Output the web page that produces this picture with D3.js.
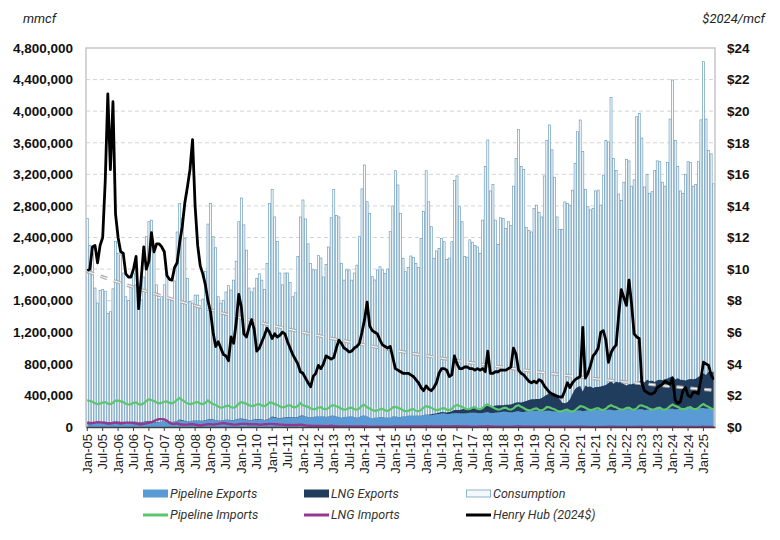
<!DOCTYPE html>
<html>
<head>
<meta charset="utf-8">
<script src="https://cdn.jsdelivr.net/npm/d3@7"></script>
<style>
  body { margin: 0; background: #fff; }
  svg { font-family: Roboto, "Liberation Sans", Arial, sans-serif; }
</style>
</head>
<body>
<svg id="chart" width="780" height="540"></svg>
<script>
// monthly series Jan-05 .. May-25, volumes in thousand mmcf
const consumption = [
  2640, 2300, 2200, 1760, 1570, 1730, 1740, 1720, 1440, 1460, 1750, 2350,
  2200, 2180, 1950, 1650, 1600, 1780, 1950, 1800, 1600, 1610, 1900, 2410,
  2600, 2620, 2200, 1800, 1620, 1650, 1800, 1950, 1640, 1600, 1850, 2470,
  2830, 2640, 2390, 1880, 1590, 1570, 1670, 1670, 1500, 1620, 1970, 2570,
  2830, 2410, 2270, 1650, 1570, 1600, 1710, 1790, 1735, 1860, 2100, 2600,
  2900, 2560, 2240, 1760, 1710, 1760, 1880, 1940, 1860, 1740, 2070, 2830,
  3010, 2660, 2350, 1950, 1800, 1950, 1950, 1830, 1650, 1700, 2160, 2660,
  2875, 2635, 2320, 2070, 1990, 1990, 2170, 2140, 1900, 2060, 2280, 2650,
  3010, 2680, 2660, 2070, 1860, 1990, 1990, 1860, 1950, 2050, 2410, 3016,
  3318, 2853, 2706, 1904, 1862, 1988, 2030, 1990, 1946, 2000, 2474, 2800,
  3246, 3065, 2706, 2137, 1967, 2020, 2166, 2150, 2070, 2020, 2390, 2728,
  3246, 2853, 2537, 2137, 2230, 2260, 2390, 2347, 2120, 2140, 2347, 3122,
  3180, 2790, 2600, 2160, 2150, 2370, 2340, 2300, 2280, 2200, 2620, 3300,
  3635, 2990, 3070, 2620, 2310, 2650, 2640, 2514, 2600, 2550, 3050, 3400,
  3770, 3300, 3260, 2530, 2490, 2470, 2770, 2810, 2720, 2660, 3180, 3630,
  3825, 3510, 3163, 2660, 2500, 2500, 2850, 2830, 2810, 3000, 3340, 3740,
  3888, 3490, 3010, 2790, 2750, 2770, 2990, 3000, 2810, 3190, 3630, 3610,
  4175, 3400, 3250, 2950, 2870, 3100, 3390, 3370, 3050, 3130, 3930, 3973,
  3660, 3040, 3200, 2960, 2980, 3250, 3370, 3360, 3100, 3050, 3350, 3900,
  4395, 3630, 3300, 2990, 2960, 3200, 3360, 3350, 3050, 3070, 3360, 3890,
  4627, 3900, 3500, 3460, 3080
];

const pipelineExports = [
  65, 60, 55, 50, 50, 55, 60, 60, 55, 55, 60, 65,
  65, 60, 55, 50, 50, 55, 60, 60, 55, 55, 60, 70,
  70, 65, 60, 55, 60, 65, 70, 70, 65, 60, 65, 75,
  85, 80, 75, 70, 70, 75, 80, 80, 75, 75, 80, 90,
  95, 90, 85, 80, 80, 85, 90, 90, 85, 85, 90, 100,
  100, 95, 90, 85, 85, 90, 95, 95, 90, 85, 90, 105,
  125, 115, 110, 105, 110, 115, 120, 120, 115, 115, 120, 135,
  140, 130, 125, 120, 125, 130, 135, 135, 130, 125, 130, 140,
  140, 130, 125, 120, 125, 130, 135, 135, 125, 120, 125, 140,
  145, 130, 120, 110, 115, 120, 125, 125, 120, 115, 120, 135,
  130, 125, 125, 130, 135, 140, 145, 145, 140, 140, 145, 150,
  155, 150, 150, 155, 160, 165, 170, 170, 165, 165, 170, 175,
  175, 170, 170, 172, 175, 180, 182, 182, 178, 175, 178, 185,
  188, 178, 178, 182, 185, 190, 192, 192, 188, 185, 188, 195,
  198, 190, 190, 195, 198, 202, 205, 205, 200, 198, 200, 205,
  205, 198, 195, 192, 192, 198, 205, 205, 200, 200, 202, 208,
  210, 200, 205, 208, 212, 215, 218, 218, 214, 212, 212, 218,
  218, 208, 212, 215, 218, 222, 225, 225, 222, 220, 220, 225,
  225, 215, 218, 222, 226, 230, 233, 233, 228, 225, 225, 230,
  232, 222, 226, 230, 234, 238, 242, 242, 236, 232, 232, 238,
  240, 230, 234, 238, 242
];

const lngExports = [
  5, 5, 6, 5, 5, 5, 5, 5, 5, 5, 5, 6,
  5, 5, 5, 5, 5, 5, 5, 5, 5, 5, 5, 5,
  5, 4, 4, 4, 4, 4, 4, 4, 4, 4, 4, 4,
  10, 8, 5, 3, 3, 3, 3, 3, 3, 3, 4, 6,
  6, 5, 4, 3, 3, 3, 3, 3, 4, 5, 5, 6,
  8, 7, 6, 5, 5, 5, 5, 5, 5, 5, 5, 6,
  8, 7, 6, 6, 6, 6, 6, 6, 6, 6, 6, 7,
  5, 4, 3, 2, 2, 2, 2, 2, 2, 2, 2, 2,
  2, 2, 2, 1, 1, 1, 1, 1, 1, 1, 1, 2,
  2, 2, 1, 1, 1, 1, 1, 1, 1, 1, 1, 2,
  2, 2, 2, 2, 2, 2, 2, 2, 2, 2, 2, 3,
  2, 5, 10, 12, 15, 15, 20, 18, 20, 25, 30, 40,
  40, 45, 55, 60, 55, 55, 60, 55, 55, 60, 65, 75,
  80, 80, 85, 90, 90, 85, 85, 90, 95, 100, 110, 115,
  115, 120, 130, 135, 145, 150, 145, 150, 155, 170, 190, 205,
  220, 235, 235, 210, 160, 110, 95, 110, 150, 220, 280, 300,
  310, 250, 320, 300, 300, 280, 290, 290, 300, 310, 320, 340,
  360, 340, 360, 350, 355, 320, 300, 315, 320, 330, 340, 350,
  370, 350, 380, 360, 360, 340, 360, 365, 365, 380, 390, 400,
  410, 380, 390, 370, 360, 350, 360, 365, 370, 380, 400, 420,
  440, 430, 470, 450, 460
];

const pipelineImports = [
  340, 330, 320, 300, 290, 295, 310, 315, 295, 290, 305, 335,
  335, 325, 315, 295, 285, 290, 305, 310, 290, 285, 300, 330,
  350, 340, 330, 310, 300, 305, 320, 325, 305, 300, 315, 345,
  365, 340, 320, 300, 290, 295, 310, 315, 295, 290, 305, 335,
  310, 290, 280, 260, 245, 250, 265, 270, 250, 245, 260, 295,
  315, 305, 295, 275, 265, 270, 285, 290, 270, 265, 280, 310,
  305, 290, 280, 260, 250, 255, 270, 275, 255, 250, 265, 300,
  275, 265, 255, 235, 225, 230, 245, 250, 230, 225, 240, 270,
  275, 262, 250, 230, 220, 225, 240, 245, 225, 220, 235, 270,
  280, 250, 235, 215, 205, 210, 225, 230, 210, 205, 220, 250,
  255, 245, 230, 210, 200, 205, 220, 225, 205, 200, 215, 245,
  265, 255, 245, 225, 215, 220, 235, 240, 220, 215, 230, 265,
  280, 265, 255, 235, 225, 230, 245, 250, 230, 225, 240, 275,
  285, 265, 250, 230, 220, 225, 240, 245, 225, 220, 235, 265,
  275, 255, 240, 220, 210, 215, 230, 235, 215, 210, 225, 255,
  250, 235, 225, 205, 195, 200, 215, 220, 200, 195, 210, 240,
  265, 260, 245, 225, 215, 220, 235, 240, 220, 215, 230, 260,
  275, 260, 250, 230, 220, 225, 240, 245, 225, 220, 235, 270,
  275, 260, 250, 230, 220, 225, 240, 245, 225, 220, 235, 265,
  285, 265, 255, 235, 225, 230, 245, 250, 230, 225, 240, 270,
  290, 270, 255, 235, 225
];

const lngImports = [
  55, 45, 50, 55, 60, 58, 55, 50, 45, 45, 50, 55,
  50, 45, 50, 55, 55, 55, 50, 45, 35, 35, 40, 45,
  55, 60, 75, 90, 100, 100, 95, 80, 55, 40, 40, 45,
  35, 30, 30, 30, 35, 35, 30, 25, 20, 25, 30, 35,
  35, 30, 35, 40, 45, 50, 45, 40, 35, 30, 30, 35,
  40, 40, 40, 35, 35, 35, 35, 30, 30, 35, 35, 40,
  40, 35, 35, 30, 30, 25, 25, 25, 25, 25, 25, 30,
  25, 20, 15, 15, 12, 12, 12, 12, 12, 10, 12, 15,
  12, 10, 8, 8, 7, 7, 6, 6, 6, 6, 6, 8,
  8, 6, 5, 4, 4, 4, 4, 4, 4, 4, 5, 6,
  8, 8, 8, 7, 7, 6, 6, 6, 6, 7, 7, 8,
  9, 8, 7, 7, 6, 6, 6, 6, 6, 7, 7, 9,
  9, 8, 7, 6, 6, 5, 5, 5, 5, 6, 6, 8,
  10, 8, 6, 5, 5, 5, 4, 4, 4, 5, 5, 7,
  8, 6, 5, 4, 3, 3, 3, 3, 3, 3, 4, 5,
  5, 4, 3, 3, 3, 3, 3, 3, 3, 3, 3, 4,
  5, 4, 3, 2, 2, 2, 2, 2, 2, 2, 2, 3,
  4, 3, 2, 2, 1, 1, 1, 1, 1, 1, 2, 3,
  3, 2, 2, 1, 1, 1, 1, 1, 1, 1, 1, 2,
  3, 2, 1, 1, 1, 1, 1, 1, 1, 1, 1, 2,
  3, 2, 1, 1, 1
];

// Henry Hub, $2024 per mcf
const henryHub = [
  9.9, 10.0, 11.4, 11.5, 10.4, 11.5, 12.0, 15.6, 21.1, 16.3, 20.6, 13.5,
  12.0, 11.1, 11.0, 9.7, 9.5, 9.5, 10.0, 10.8, 7.5, 9.4, 11.4, 10.0,
  10.5, 12.3, 11.1, 11.6, 11.6, 11.4, 11.1, 9.6, 9.35, 9.3, 10.1, 10.4,
  11.7, 12.7, 14.2, 15.2, 16.3, 18.2, 14.0, 11.5, 10.2, 9.7, 9.0, 8.0,
  7.3, 6.0, 5.1, 5.4, 5.0, 4.6, 4.5, 4.2, 5.7, 5.3, 6.6, 8.4,
  7.6, 5.9, 5.7, 6.3, 6.8, 6.2, 4.8, 5.0, 5.4, 5.8, 6.25, 6.0,
  5.6, 5.9, 5.7, 5.8, 6.0, 5.9, 5.4, 5.0, 4.6, 4.3, 4.0, 3.5,
  3.4, 3.1, 2.8, 2.55, 3.2, 3.4, 3.9, 3.7, 4.0, 4.5, 4.4, 4.3,
  4.4, 5.0, 5.5, 5.3, 5.0, 4.9, 4.75, 4.8, 5.0, 5.1, 5.3, 6.0,
  6.8, 7.9, 6.4, 6.1, 6.0, 5.9, 5.5, 5.2, 5.1, 5.0, 5.1, 4.4,
  3.7, 3.6, 3.5, 3.4, 3.4, 3.4, 3.3, 3.2, 3.0, 2.8, 2.5, 2.3,
  2.6, 2.4, 2.3, 2.5, 2.8, 3.4, 3.7, 3.7, 3.6, 3.2, 3.3, 4.5,
  4.0, 3.7, 3.7, 3.8, 3.8, 3.7, 3.7, 3.6, 3.7, 3.6, 3.7, 3.5,
  4.8, 3.4, 3.4, 3.5, 3.5, 3.6, 3.6, 3.6, 3.7, 3.8, 5.0, 4.6,
  3.6, 3.4, 3.3, 3.1, 2.9, 2.8, 2.9, 2.8, 3.0, 2.9, 2.6, 2.4,
  2.2, 2.1, 2.0, 1.95, 1.9, 1.9, 2.3, 2.8, 2.5, 2.8, 3.0, 3.1,
  3.2, 6.3, 3.1, 3.4, 3.9, 4.5, 4.7, 5.0, 6.0, 6.1, 5.5, 4.1,
  4.7, 5.0, 5.2, 7.1, 8.7, 8.2, 7.7, 9.3, 7.8, 5.9, 5.7, 5.6,
  2.8, 2.3, 2.2, 2.1, 2.1, 2.2, 2.5, 2.6, 2.7, 2.9, 2.8, 2.7,
  3.1, 1.7, 1.5, 1.6, 2.3, 2.5, 2.0, 1.9, 2.2, 2.2, 2.1, 3.0,
  4.1, 4.0, 3.9, 3.3, 3.0
];

const leftTicks = [0, 400, 800, 1200, 1600, 2000, 2400, 2800, 3200, 3600, 4000, 4400, 4800];
const rightTicks = [0, 2, 4, 6, 8, 10, 12, 14, 16, 18, 20, 22, 24];
const months = d3.timeMonth.range(new Date(2005, 0, 1), new Date(2025, 5, 1));

const legendItems = [
  { name: "Pipeline Exports", kind: "box", fill: "#5b9bd5", stroke: "#5b9bd5" },
  { name: "LNG Exports", kind: "box", fill: "#203d5e", stroke: "#203d5e" },
  { name: "Consumption", kind: "box", fill: "#f2f8fb", stroke: "#8db3c9" },
  { name: "Pipeline Imports", kind: "line", stroke: "#5cc66e" },
  { name: "LNG Imports", kind: "line", stroke: "#94388f" },
  { name: "Henry Hub (2024$)", kind: "line", stroke: "#000" },
];

const svg = d3.select("#chart");
const L = 86, R = 715, T = 48, B = 427;

const idx = d3.range(months.length);
const x = d3.scaleBand().domain(idx).range([L, R]).paddingInner(0.22).paddingOuter(0.11);
const cx = (i) => x(i) + x.bandwidth() / 2;
const yL = d3.scaleLinear([0, 4800], [B, T]);
const yR = d3.scaleLinear([0, 24], [B, T]);

// grid
svg.append("g")
  .selectAll("line")
  .data(leftTicks.filter((d) => d > 0 && d < 4800))
  .join("line")
  .attr("x1", L).attr("x2", R)
  .attr("y1", (d) => yL(d)).attr("y2", (d) => yL(d))
  .attr("stroke", "#d4d4d4")
  .attr("stroke-dasharray", "4,3");

// consumption bars
svg.append("g")
  .selectAll("rect")
  .data(consumption)
  .join("rect")
  .attr("x", (d, i) => x(i))
  .attr("width", x.bandwidth())
  .attr("y", (d) => yL(d))
  .attr("height", (d) => B - yL(d))
  .attr("fill", "#f7fbfd")
  .attr("stroke", "#6f9ebd")
  .attr("stroke-width", 0.7);

// stacked export areas
const pe = d3.area()
  .x((d, i) => cx(i))
  .y0(B)
  .y1((d) => yL(d));
svg.append("path").datum(pipelineExports).attr("d", pe).attr("fill", "#5b9bd5");

const lng = d3.area()
  .x((d, i) => cx(i))
  .y0((d, i) => yL(pipelineExports[i]))
  .y1((d, i) => yL(pipelineExports[i] + d));
svg.append("path").datum(lngExports).attr("d", lng).attr("fill", "#203d5e");

const lineL = d3.line().x((d, i) => cx(i)).y((d) => yL(d));
svg.append("path").datum(pipelineImports).attr("d", lineL)
  .attr("fill", "none").attr("stroke", "#5cc66e").attr("stroke-width", 2.2);
svg.append("path").datum(lngImports).attr("d", lineL)
  .attr("fill", "none").attr("stroke", "#94388f").attr("stroke-width", 2.4);

// exponential trendline of Henry Hub (least squares on ln)
const lnv = henryHub.map(Math.log);
const mx = d3.mean(idx), my = d3.mean(lnv);
const slope = d3.sum(idx, (i) => (i - mx) * (lnv[i] - my)) / d3.sum(idx, (i) => (i - mx) ** 2);
const icpt = my - slope * mx;
const trend = idx.map((i) => Math.exp(icpt + slope * i));
const lineR = d3.line().x((d, i) => cx(i)).y((d) => yR(d));
svg.append("path").datum(trend).attr("d", lineR)
  .attr("fill", "none").attr("stroke", "#a9a9a9").attr("stroke-width", 3.4)
  .attr("stroke-dasharray", "7,7");
svg.append("path").datum(trend).attr("d", lineR)
  .attr("fill", "none").attr("stroke", "#f4f4f4").attr("stroke-width", 1.2)
  .attr("stroke-dasharray", "7,7");

svg.append("path").datum(henryHub).attr("d", lineR)
  .attr("fill", "none").attr("stroke", "#000").attr("stroke-width", 2.8)
  .attr("stroke-linejoin", "round");

// frame
svg.append("path")
  .attr("d", `M${L},${B}V${T}H${R}V${B}`)
  .attr("fill", "none").attr("stroke", "#c6c6c6").attr("stroke-width", 1.5);

// axes
const ax = svg.append("g")
  .attr("transform", `translate(0,${B})`)
  .call(d3.axisBottom(x)
    .tickValues(idx.filter((i) => i % 6 === 0))
    .tickFormat((i) => d3.timeFormat("%b-%y")(months[i]))
    .tickSize(4).tickSizeOuter(0).tickPadding(6));
ax.select(".domain").attr("stroke", "#404040").attr("stroke-width", 1.3);
ax.selectAll(".tick line").attr("stroke", "#404040");
ax.selectAll("text")
  .attr("transform", "rotate(-90)")
  .attr("x", -7).attr("y", 0).attr("dy", "0.35em")
  .attr("text-anchor", "end")
  .attr("font-size", 13).attr("fill", "#222");

const ay = svg.append("g")
  .attr("transform", `translate(${L},0)`)
  .call(d3.axisLeft(yL).tickValues(leftTicks)
    .tickFormat((d) => d3.format(",")(d * 1000)).tickSize(0).tickPadding(13));
ay.select(".domain").remove();
ay.selectAll("text").attr("font-size", 13.5).attr("font-weight", "bold").attr("fill", "#111");

const ar = svg.append("g")
  .attr("transform", `translate(${R},0)`)
  .call(d3.axisRight(yR).tickValues(rightTicks)
    .tickFormat((d) => "$" + d).tickSize(0).tickPadding(12));
ar.select(".domain").remove();
ar.selectAll("text").attr("font-size", 13.5).attr("font-weight", "bold").attr("fill", "#111");

svg.append("text").attr("x", 23).attr("y", 23).text("mmcf")
  .attr("font-style", "italic").attr("font-size", 13).attr("fill", "#222");
svg.append("text").attr("x", 765).attr("y", 23).text("$2024/mcf")
  .attr("text-anchor", "end")
  .attr("font-style", "italic").attr("font-size", 13).attr("fill", "#222");

// legend
const colX = [143, 304, 466];
const rowY = [494, 515];
const lg = svg.append("g")
  .selectAll("g")
  .data(legendItems)
  .join("g")
  .attr("transform", (d, i) => `translate(${colX[i % 3]},${rowY[Math.floor(i / 3)]})`);
lg.filter((d) => d.kind === "box")
  .append("rect")
  .attr("x", 0.5).attr("y", -4).attr("width", 24).attr("height", 7)
  .attr("fill", (d) => d.fill).attr("stroke", (d) => d.stroke);
lg.filter((d) => d.kind === "line")
  .append("line")
  .attr("x1", 0).attr("x2", 25).attr("y1", 0).attr("y2", 0)
  .attr("stroke", (d) => d.stroke).attr("stroke-width", 3);
lg.append("text")
  .attr("x", 27).attr("y", 0).attr("dy", "0.35em")
  .text((d) => d.name)
  .attr("font-style", "italic").attr("font-size", 12.5).attr("fill", "#333");
</script>
</body>
</html>
